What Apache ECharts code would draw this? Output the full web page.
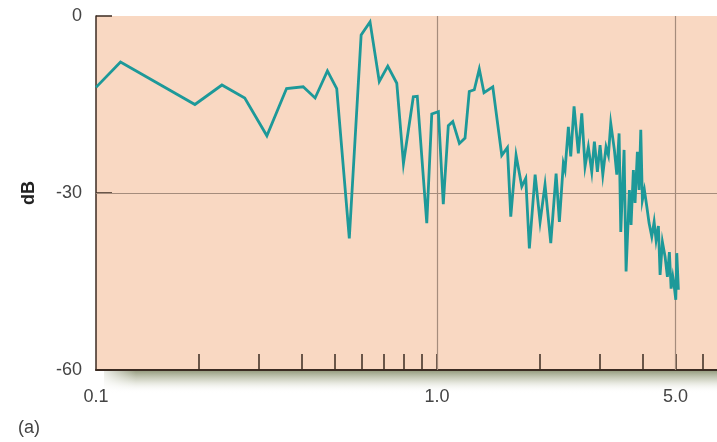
<!DOCTYPE html>
<html>
<head>
<meta charset="utf-8">
<script src="https://cdn.jsdelivr.net/npm/echarts@6/dist/echarts.min.js"></script>
<style>
  html, body { margin: 0; padding: 0; background: #ffffff; }
  #chart { width: 717px; height: 442px; }
</style>
</head>
<body>
<div id="chart"></div>
<script>
// Frequency (log scale) and response level in dB
const freq = [
  0.100, 0.118, 0.195, 0.234, 0.273, 0.317, 0.362, 0.405, 0.439, 0.477,
  0.508, 0.553, 0.599, 0.636, 0.677, 0.717, 0.762, 0.797, 0.852, 0.875,
  0.933, 0.965, 1.009, 1.043, 1.079, 1.112, 1.163, 1.208, 1.243, 1.286,
  1.330, 1.373, 1.457, 1.548, 1.608, 1.645, 1.705, 1.772, 1.820, 1.865,
  1.939, 2.005, 2.073, 2.155, 2.234, 2.284, 2.346, 2.373, 2.427, 2.466,
  2.522, 2.596, 2.657, 2.716, 2.777, 2.842, 2.893, 2.952, 3.006, 3.062,
  3.130, 3.180, 3.231, 3.311, 3.365, 3.418, 3.457, 3.535, 3.583, 3.664,
  3.706, 3.764, 3.807, 3.867, 3.912, 3.957, 4.000, 4.055, 4.121, 4.185,
  4.262, 4.330, 4.388, 4.457, 4.508, 4.579, 4.663, 4.736, 4.800, 4.856,
  4.912, 4.955, 5.012, 5.046, 5.101
];
const level = [
  -12.1, -7.8, -15.0, -11.7, -13.9, -20.3, -12.3, -12.0, -13.9, -9.3,
  -12.3, -37.7, -3.2, -1.0, -11.1, -8.5, -11.4, -25.0, -13.7, -13.6,
  -35.1, -16.6, -16.2, -31.9, -18.6, -17.9, -21.6, -20.7, -12.8, -12.5,
  -9.0, -13.0, -12.0, -23.6, -22.3, -34.0, -23.6, -28.9, -27.5, -39.4,
  -26.9, -34.9, -28.6, -38.5, -26.7, -34.9, -25.0, -26.1, -18.8, -23.8,
  -15.3, -23.3, -16.5, -25.5, -22.2, -26.4, -21.3, -26.4, -21.9, -26.9,
  -22.2, -23.6, -18.2, -22.7, -26.9, -19.9, -36.6, -22.7, -43.3, -29.5,
  -35.4, -26.1, -31.7, -23.0, -29.5, -19.3, -31.2, -29.5, -32.3, -35.1,
  -37.4, -34.9, -38.0, -35.6, -43.9, -38.3, -40.8, -44.2, -40.0, -46.2,
  -44.2, -45.6, -48.1, -40.2, -46.4
];

// Axis ticks and labels
const xMinorTicks = [0.2, 0.3, 0.4, 0.5, 0.6, 0.7, 0.8, 0.9, 1, 2, 3, 4, 5, 6];
const xTickLabels = [0.1, 1, 5];
const xGridLines = [1, 5];
const yGridLines = [-30];

const chart = echarts.init(document.getElementById('chart'), null, { renderer: 'canvas' });

const axisDark = '#3b2b22';
const gridColor = '#a58c7c';
const labelColor = '#444444';
const font = 'Liberation Sans, Arial, sans-serif';

chart.setOption({
  animation: false,
  backgroundColor: '#ffffff',
  title: {
    text: '(a)',
    left: 13,
    top: 414,
    textStyle: { fontFamily: font, fontSize: 18, fontWeight: 'normal', color: labelColor }
  },
  graphic: [
    {
      // soft shadow under the baseline
      type: 'rect',
      z: -1,
      shape: { x: 104, y: 371, width: 620, height: 22 },
      style: {
        fill: new echarts.graphic.LinearGradient(0, 0, 0, 1, [
          { offset: 0, color: 'rgba(118,126,88,0.75)' },
          { offset: 0.45, color: 'rgba(150,156,120,0.35)' },
          { offset: 1, color: 'rgba(255,255,255,0)' }
        ])
      }
    },
    {
      type: 'rect',
      z: 0,
      shape: { x: 96, y: 371, width: 40, height: 24 },
      style: {
        fill: new echarts.graphic.LinearGradient(0, 0, 1, 0, [
          { offset: 0, color: 'rgba(255,255,255,1)' },
          { offset: 1, color: 'rgba(255,255,255,0)' }
        ])
      }
    }
  ],
  grid: {
    left: 96,
    right: 0,
    top: 16,
    bottom: 72,
    show: true,
    backgroundColor: '#f9d8c2',
    borderWidth: 0
  },
  xAxis: {
    type: 'log',
    logBase: 10,
    min: 0.1,
    max: 6.62,
    position: 'bottom',
    axisLine: { show: true, onZero: false, lineStyle: { color: axisDark, width: 2 } },
    axisTick: {
      show: true,
      inside: true,
      length: 16,
      customValues: xMinorTicks,
      lineStyle: { color: axisDark, width: 1.5 }
    },
    minorTick: { show: false },
    splitLine: { show: false },
    axisLabel: {
      customValues: xTickLabels,
      formatter: v => Number(v).toFixed(1),
      margin: 18,
      fontFamily: font,
      fontSize: 18,
      color: labelColor
    }
  },
  yAxis: {
    type: 'value',
    min: -60,
    max: 0,
    interval: 30,
    name: 'dB',
    nameLocation: 'middle',
    nameGap: 58,
    nameTextStyle: { fontFamily: font, fontSize: 18, fontWeight: 'bold', color: '#222222' },
    axisLine: { show: true, onZero: false, lineStyle: { color: axisDark, width: 1.5 } },
    axisTick: { show: true, inside: true, length: 16, lineStyle: { color: axisDark, width: 1.5 } },
    splitLine: { show: false },
    axisLabel: {
      margin: 14,
      fontFamily: font,
      fontSize: 18,
      color: labelColor
    }
  },
  series: [
    {
      type: 'line',
      data: freq.map((f, i) => [f, level[i]]),
      symbol: 'none',
      z: 3,
      lineStyle: { color: '#1d9999', width: 2.8, join: 'miter' },
      markLine: {
        silent: true,
        symbol: 'none',
        label: { show: false },
        z: 1,
        lineStyle: { color: gridColor, width: 1.2, type: 'solid' },
        data: [
          ...xGridLines.map(v => ({ xAxis: v })),
          ...yGridLines.map(v => ({ yAxis: v }))
        ]
      }
    }
  ]
});
</script>
</body>
</html>
